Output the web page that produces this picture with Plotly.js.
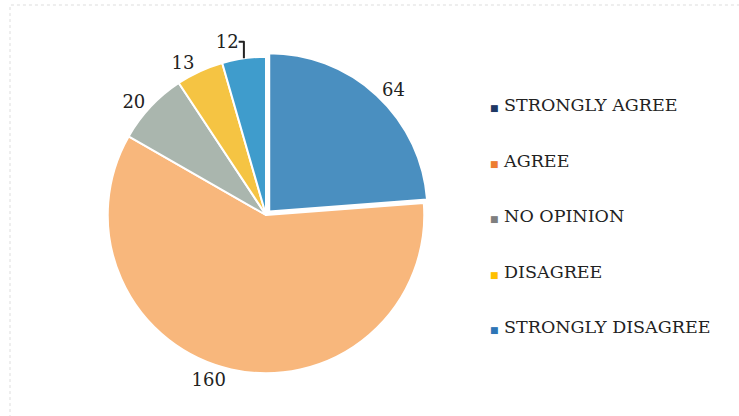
<!DOCTYPE html>
<html>
<head>
<meta charset="utf-8">
<script src="https://cdn.plot.ly/plotly-3.0.1.min.js"></script>
<style>html,body{margin:0;padding:0;background:#fff;}#chart{width:739px;height:416px;}</style>
</head>
<body>
<div id="chart"></div>
<script>
const categories = ["STRONGLY AGREE", "AGREE", "NO OPINION", "DISAGREE", "STRONGLY DISAGREE"];
const values = [64, 160, 20, 13, 12];
const sliceColors = ["#4a8fc0", "#f8b77c", "#aab6ae", "#f5c443", "#3f9ccc"];
const legendColors = ["#1f3864", "#ed7d31", "#7f7f7f", "#ffc000", "#2e75b6"];

const W = 739, H = 416;
const cx = 266, cy = 215, r = 163;
const FONT = "DejaVu Serif";

const trace = {
  type: "pie",
  labels: categories,
  values: values,
  sort: false,
  direction: "clockwise",
  rotation: 0,
  pull: [0.03, 0, 0, 0, 0],
  marker: {colors: sliceColors, line: {color: "#ffffff", width: 2}},
  textinfo: "value",
  textposition: "outside",
  outsidetextfont: {family: FONT, size: 18, color: "#222"},
  showlegend: false,
  hoverinfo: "label+value",
  domain: {
    x: [(cx - r) / W, (cx + r) / W],
    y: [(H - cy - r) / H, (H - cy + r) / H]
  }
};

const legendX = 488 / W;
const legendY0 = 105, legendStep = 55.5;
const annotations = categories.map((c, i) => ({
  xref: "paper", yref: "paper",
  x: legendX, y: 1 - (legendY0 + i * legendStep) / H,
  xanchor: "left", yanchor: "middle",
  showarrow: false,
  align: "left",
  text: '<span style="color:' + legendColors[i] + ';font-size:9px">■</span> ' + c,
  font: {family: FONT, size: 17.5, color: "#222"}
}));

const layout = {
  width: W, height: H,
  margin: {l: 0, r: 0, t: 0, b: 0},
  paper_bgcolor: "#ffffff",
  plot_bgcolor: "#ffffff",
  font: {family: FONT},
  showlegend: false,
  annotations: annotations,
  shapes: [{
    type: "rect", xref: "paper", yref: "paper",
    x0: 10 / W, x1: 1.01, y0: -0.01, y1: 1 - 5 / H,
    line: {color: "#dddddd", width: 1, dash: "dot"}
  }]
};

Plotly.newPlot("chart", [trace], layout, {displayModeBar: false, staticPlot: true});
</script>
</body>
</html>
